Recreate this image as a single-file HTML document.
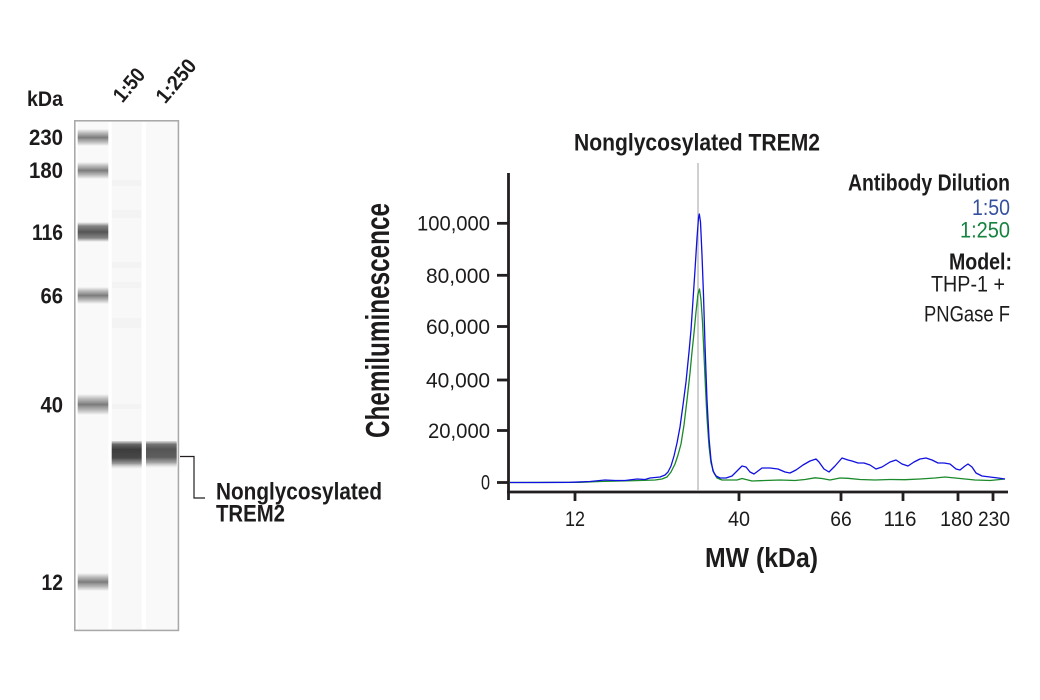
<!DOCTYPE html>
<html><head><meta charset="utf-8"><style>
html,body{margin:0;padding:0;background:#fff;}
svg{display:block;}
text{font-family:"Liberation Sans",sans-serif;fill:#1e1b1c;}
.b{font-weight:bold;}
</style></head><body>
<svg width="1040" height="700" viewBox="0 0 1040 700" xmlns="http://www.w3.org/2000/svg">
<defs>
<linearGradient id="lb" x1="0" y1="0" x2="0" y2="1">
<stop offset="0" stop-color="#999" stop-opacity="0"/>
<stop offset="0.25" stop-color="#999" stop-opacity="0.7"/>
<stop offset="0.5" stop-color="#7a7a7a" stop-opacity="1"/>
<stop offset="0.75" stop-color="#999" stop-opacity="0.7"/>
<stop offset="1" stop-color="#999" stop-opacity="0"/>
</linearGradient>
<linearGradient id="ld" x1="0" y1="0" x2="0" y2="1">
<stop offset="0" stop-color="#777" stop-opacity="0"/>
<stop offset="0.2" stop-color="#666" stop-opacity="0.8"/>
<stop offset="0.5" stop-color="#555" stop-opacity="1"/>
<stop offset="0.8" stop-color="#666" stop-opacity="0.8"/>
<stop offset="1" stop-color="#777" stop-opacity="0"/>
</linearGradient>
<linearGradient id="s2" x1="0" y1="0" x2="0" y2="1">
<stop offset="0" stop-color="#666" stop-opacity="0.2"/>
<stop offset="0.12" stop-color="#555" stop-opacity="0.9"/>
<stop offset="0.3" stop-color="#3c3c3c" stop-opacity="1"/>
<stop offset="0.6" stop-color="#474747" stop-opacity="1"/>
<stop offset="0.8" stop-color="#8a8a8a" stop-opacity="0.9"/>
<stop offset="1" stop-color="#ccc" stop-opacity="0"/>
</linearGradient>
<linearGradient id="s3" x1="0" y1="0" x2="0" y2="1">
<stop offset="0" stop-color="#777" stop-opacity="0.2"/>
<stop offset="0.12" stop-color="#666" stop-opacity="0.9"/>
<stop offset="0.3" stop-color="#555" stop-opacity="1"/>
<stop offset="0.6" stop-color="#5e5e5e" stop-opacity="1"/>
<stop offset="0.8" stop-color="#999" stop-opacity="0.9"/>
<stop offset="1" stop-color="#ccc" stop-opacity="0"/>
</linearGradient>
</defs>

<!-- Gel -->
<text class="b" x="27" y="106" font-size="21" textLength="36" lengthAdjust="spacingAndGlyphs">kDa</text>
<text class="b" transform="translate(129,85) rotate(-50)" text-anchor="middle" x="0" y="7" font-size="21" textLength="37" lengthAdjust="spacingAndGlyphs">1:50</text>
<text class="b" transform="translate(176,81) rotate(-50)" text-anchor="middle" x="0" y="7" font-size="21" textLength="50" lengthAdjust="spacingAndGlyphs">1:250</text>

<g class="b" font-size="22" text-anchor="end">
<text x="63" y="145" textLength="34" lengthAdjust="spacingAndGlyphs">230</text>
<text x="63" y="178" textLength="34" lengthAdjust="spacingAndGlyphs">180</text>
<text x="63" y="240" textLength="31" lengthAdjust="spacingAndGlyphs">116</text>
<text x="63" y="303.5" textLength="22.5" lengthAdjust="spacingAndGlyphs">66</text>
<text x="63" y="412.5" textLength="22.5" lengthAdjust="spacingAndGlyphs">40</text>
<text x="63" y="590" textLength="21.5" lengthAdjust="spacingAndGlyphs">12</text>
</g>

<rect x="74.8" y="120.8" width="103.6" height="509.6" fill="#fff" stroke="#a9a9a9" stroke-width="1.6"/>
<rect x="77.7" y="122" width="30.6" height="507" fill="#f9f9f9"/>
<rect x="111.7" y="122" width="30" height="507" fill="#f8f8f8"/>
<rect x="146" y="122" width="30.7" height="507" fill="#f9f9f9"/>
<!-- faint smears lane2 -->
<g fill="#f3f3f3">
<rect x="112" y="180" width="29" height="6"/>
<rect x="112" y="210" width="29" height="8"/>
<rect x="112" y="262" width="29" height="6"/>
<rect x="112" y="282" width="29" height="6"/>
<rect x="112" y="318" width="29" height="10"/>
<rect x="112" y="404" width="29" height="5"/>
</g>
<!-- ladder bands -->
<rect x="77.7" y="129" width="30.6" height="17" fill="url(#lb)"/>
<rect x="77.7" y="162" width="30.6" height="17" fill="url(#lb)"/>
<rect x="77.7" y="222" width="30.6" height="20" fill="url(#ld)"/>
<rect x="77.7" y="287" width="30.6" height="17" fill="url(#lb)"/>
<rect x="77.7" y="394" width="30.6" height="21" fill="url(#lb)"/>
<rect x="77.7" y="573" width="30.6" height="18" fill="url(#lb)"/>
<!-- sample bands -->
<rect x="111.7" y="441" width="30" height="28" fill="url(#s2)"/>
<rect x="146" y="441" width="30.7" height="27" fill="url(#s3)"/>

<!-- bracket -->
<polyline points="180,456.5 194,456.5 194,498 205,498" fill="none" stroke="#231f20" stroke-width="1.2"/>
<text class="b" x="216" y="499.5" font-size="24" textLength="166" lengthAdjust="spacingAndGlyphs">Nonglycosylated</text>
<text class="b" x="216" y="521.5" font-size="24" textLength="69" lengthAdjust="spacingAndGlyphs">TREM2</text>

<!-- Chart -->
<text class="b" x="574" y="150.7" font-size="24" textLength="246" lengthAdjust="spacingAndGlyphs">Nonglycosylated TREM2</text>
<text class="b" transform="translate(389,320.5) rotate(-90)" x="0" y="0" text-anchor="middle" font-size="33" textLength="235" lengthAdjust="spacingAndGlyphs">Chemiluminescence</text>

<g font-size="21" text-anchor="end">
<text x="490" y="230.5" textLength="73" lengthAdjust="spacingAndGlyphs">100,000</text>
<text x="490" y="283" textLength="64" lengthAdjust="spacingAndGlyphs">80,000</text>
<text x="490" y="334" textLength="64" lengthAdjust="spacingAndGlyphs">60,000</text>
<text x="490" y="387.5" textLength="64" lengthAdjust="spacingAndGlyphs">40,000</text>
<text x="490" y="438" textLength="62" lengthAdjust="spacingAndGlyphs">20,000</text>
<text x="490" y="489.5" textLength="9" lengthAdjust="spacingAndGlyphs">0</text>
</g>

<g font-size="21" text-anchor="middle">
<text x="575" y="526" textLength="20" lengthAdjust="spacingAndGlyphs">12</text>
<text x="739" y="526" textLength="22" lengthAdjust="spacingAndGlyphs">40</text>
<text x="841" y="526" textLength="21.5" lengthAdjust="spacingAndGlyphs">66</text>
<text x="900" y="526" textLength="33" lengthAdjust="spacingAndGlyphs">116</text>
<text x="956.5" y="526" textLength="33" lengthAdjust="spacingAndGlyphs">180</text>
<text x="994" y="526" textLength="32" lengthAdjust="spacingAndGlyphs">230</text>
</g>
<text class="b" x="705" y="567" font-size="28" textLength="113" lengthAdjust="spacingAndGlyphs">MW (kDa)</text>

<!-- legend -->
<g text-anchor="end">
<text class="b" x="1010" y="190.5" font-size="23" textLength="162" lengthAdjust="spacingAndGlyphs">Antibody Dilution</text>
<text x="1010" y="215" font-size="22" style="fill:#34509f" textLength="38" lengthAdjust="spacingAndGlyphs">1:50</text>
<text x="1010" y="237.3" font-size="22" style="fill:#15833f" textLength="50" lengthAdjust="spacingAndGlyphs">1:250</text>
<text class="b" x="1012" y="269.3" font-size="23" textLength="63" lengthAdjust="spacingAndGlyphs">Model:</text>
<text x="1005" y="291.7" font-size="22" textLength="74" lengthAdjust="spacingAndGlyphs">THP-1 +</text>
<text x="1010" y="321.5" font-size="22" textLength="86" lengthAdjust="spacingAndGlyphs">PNGase F</text>
</g>

<!-- gray marker line -->
<line x1="698" y1="163" x2="698" y2="490" stroke="#b0b0b0" stroke-width="1.2"/>

<!-- series -->
<polyline fill="none" stroke="#1a8a2a" stroke-width="1.3" stroke-linejoin="round" points="510,482.5 580,482.3 600,481.5 620,481 640,480.5 655,480 662,479 667,477 671,472 675,464 678,455 681,444 684,425 687,400 690,373 692,352 694,333 696,312 698,294 699.5,289 701,300 702.5,322 704,355 705.5,388 707,418 709,446 711,463 714,473 717,478 722,480 730,480 737,480 742,478.5 746,479.5 752,481 765,480.5 780,480 795,480.5 805,479.5 815,477.8 822,478.5 830,480 840,478 848,478.3 860,479.5 875,480 890,479.5 905,479.7 920,479 935,478 945,477 955,478 965,479 975,480 990,480.5 1005,479"/>
<polyline fill="none" stroke="#1010e0" stroke-width="1.3" stroke-linejoin="round" points="510,482.5 540,482.5 570,482.3 590,481.5 605,480 615,480.5 625,480.5 637,479 645,479.5 650,478 660,477 665,475 668,472 671,466 674,456 677,443 680,427 683,405 686,382 689,352 691,330 693,300 695,270 697,238 698.5,218 699.3,214 700.5,222 702,255 703.5,295 705,345 707,400 709,438 711,460 713,471 716,476 720,478 726,478 732,476 737,471 742,466 746,467 750,472 754,474 758,471 762,468 770,468 778,469 785,472 790,473 796,470 803,465 810,461 816,459 819,462 824,469 829,472 835,466 842,458 848,460 852,461 858,463 864,463 870,465 876,469 882,467 890,462 896,460 902,464 908,466 914,462 920,459 926,458 932,460 938,463 944,463 950,464 956,469 960,470 965,466 968,464 972,467 976,473 982,476 990,477 998,478 1005,479"/>

<!-- axes -->
<g stroke="#231f20" stroke-width="2.8" fill="none">
<line x1="508.5" y1="173" x2="508.5" y2="500"/>
<line x1="507" y1="492" x2="1008" y2="492"/>
<line x1="497" y1="223.3" x2="508" y2="223.3"/>
<line x1="497" y1="275.3" x2="508" y2="275.3"/>
<line x1="497" y1="326.5" x2="508" y2="326.5"/>
<line x1="497" y1="380" x2="508" y2="380"/>
<line x1="497" y1="430.5" x2="508" y2="430.5"/>
<line x1="497" y1="482.5" x2="508" y2="482.5"/>
<line x1="575" y1="492" x2="575" y2="501"/>
<line x1="739" y1="492" x2="739" y2="501"/>
<line x1="841" y1="492" x2="841" y2="501"/>
<line x1="903" y1="492" x2="903" y2="501"/>
<line x1="958" y1="492" x2="958" y2="501"/>
<line x1="993" y1="492" x2="993" y2="501"/>
</g>
</svg>
</body></html>
